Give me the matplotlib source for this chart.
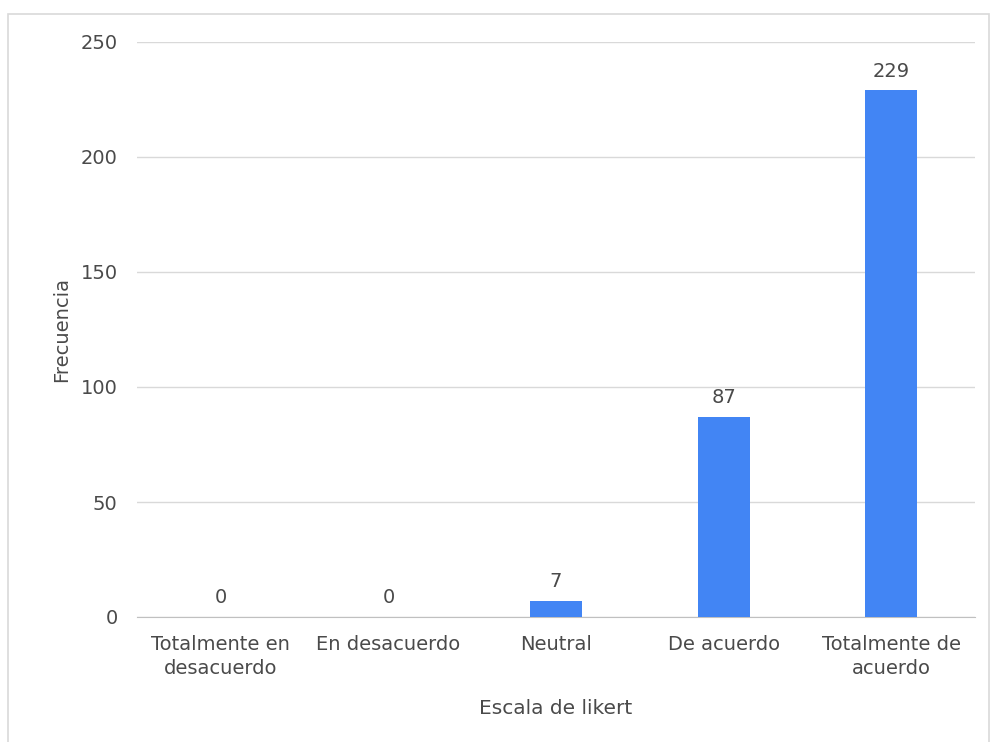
import numpy as np
import matplotlib.pyplot as plt
from matplotlib.patches import Rectangle

categorias = ["Totalmente en\ndesacuerdo", "En desacuerdo", "Neutral", "De acuerdo", "Totalmente de\nacuerdo"]
frecuencia = [0, 0, 7, 87, 229]
yticks = [0, 50, 100, 150, 200, 250]

plt.rcParams['font.family'] = ['DejaVu Sans']
gris = "#4a4a4a"

fig = plt.figure(figsize=(9.9, 7.42), dpi=100)
# borde gris claro del grafico
fig.patches.append(Rectangle((8/990, -0.01), 981/990, 1 - 14/742 + 0.01, transform=fig.transFigure,
                             fill=False, edgecolor="#d9d9d9", linewidth=1.2))
ax = fig.add_axes([137/990, 1 - 617/742, 838/990, 575/742])

x = np.arange(len(categorias))
ax.bar(x, frecuencia, width=0.31, color="#4285f4", zorder=3)
for xi, v in zip(x, frecuencia):
    ax.annotate(str(v), (xi, v), xytext=(0, 7), textcoords="offset points",
                ha="center", va="bottom", fontsize=14, color=gris)

ax.set_xlim(-0.5, len(categorias) - 0.5)
ax.set_ylim(0, 250)
ax.set_yticks(yticks)
ax.set_xticks(x)
ax.set_xticklabels(categorias, fontsize=14, color=gris, linespacing=1.35)
ax.tick_params(axis="y", labelsize=14, labelcolor=gris, length=0, pad=14)
ax.tick_params(axis="x", length=0, pad=13)
ax.grid(axis="y", color="#d9d9d9", linewidth=1, zorder=0)
for s in ["top", "right", "left"]:
    ax.spines[s].set_visible(False)
ax.spines["bottom"].set_color("#c0c0c0")

ax.set_ylabel("Frecuencia", fontsize=14, color=gris, labelpad=7)
ax.set_xlabel("Escala de likert", fontsize=14.5, color=gris, labelpad=15)

fig.savefig("out.png", dpi=100)
